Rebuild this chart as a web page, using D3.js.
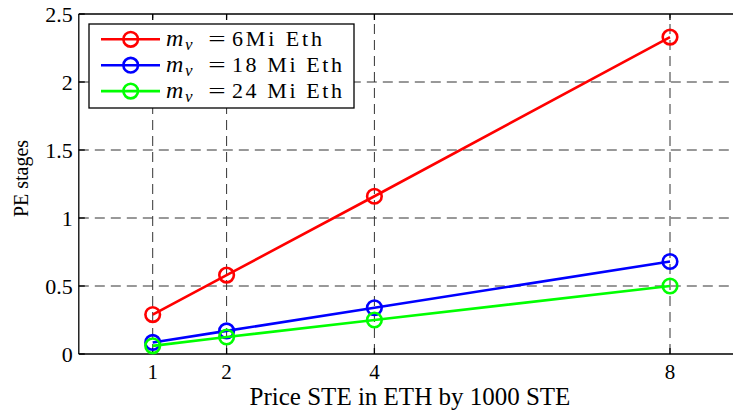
<!DOCTYPE html>
<html>
<head>
<meta charset="utf-8">
<script src="https://cdn.jsdelivr.net/npm/d3@7"></script>
<style>
  body { margin: 0; background: #fff; }
  svg { display: block; }
  text { font-family: "Liberation Serif", "Times New Roman", "DejaVu Serif", serif; fill: #000; }
</style>
</head>
<body>
<div id="chart"></div>
<script>
const prices = [1, 2, 4, 8];
const mv6 = [0.29, 0.58, 1.16, 2.33];
const mv18 = [0.085, 0.17, 0.34, 0.68];
const mv24 = [0.06, 0.125, 0.25, 0.50];
const yTicks = [0, 0.5, 1, 1.5, 2, 2.5];
const seriesNames = ["6Mi Eth", "18 Mi Eth", "24 Mi Eth"];
const seriesColors = ["#ff0000", "#0000ff", "#00ff00"];

const width = 733, height = 411;

const svg = d3.select("#chart").append("svg")
  .attr("width", width).attr("height", height);

// x domain runs past the window edge, as in the original
const x = d3.scaleLinear().domain([0, 9]).range([78.8, 78.8 + 9 * 73.9]);
const y = d3.scaleLinear().domain([0, 2.5]).range([354, 14]);
const x0 = x(0), x1 = x(9), yB = y(0), yT = y(2.5);

// dashed grid
const grid = svg.append("g").attr("stroke", "#333").attr("stroke-width", 1)
  .attr("stroke-dasharray", "10,6");
grid.selectAll(".gx").data(prices).join("line")
  .attr("x1", d => x(d)).attr("x2", d => x(d)).attr("y1", yB).attr("y2", yT);
grid.selectAll(".gy").data(yTicks.filter(d => d > 0 && d < 2.5)).join("line")
  .attr("x1", x0).attr("x2", x1).attr("y1", d => y(d)).attr("y2", d => y(d));

// frame
const frame = svg.append("g").attr("stroke", "#000").attr("stroke-width", 1.3);
frame.append("line").attr("x1", x0).attr("x2", x1).attr("y1", yB).attr("y2", yB);
frame.append("line").attr("x1", x0).attr("x2", x1).attr("y1", yT).attr("y2", yT);
frame.append("line").attr("x1", x0).attr("x2", x0).attr("y1", yB).attr("y2", yT);

// inward ticks
frame.selectAll(".tx").data(prices).join("g").each(function (d) {
  const g = d3.select(this);
  g.append("line").attr("x1", x(d)).attr("x2", x(d)).attr("y1", yB).attr("y2", yB - 6);
  g.append("line").attr("x1", x(d)).attr("x2", x(d)).attr("y1", yT).attr("y2", yT + 6);
});
frame.selectAll(".ty").data(yTicks).join("line")
  .attr("x1", x0).attr("x2", x0 + 6).attr("y1", d => y(d)).attr("y2", d => y(d));

// tick labels
svg.append("g").selectAll("text").data(prices).join("text")
  .attr("x", d => x(d)).attr("y", yB + 25)
  .attr("text-anchor", "middle").attr("font-size", 21).text(d => d);
svg.append("g").selectAll("text").data(yTicks).join("text")
  .attr("x", x0 - 6).attr("y", d => y(d) + 7.5)
  .attr("text-anchor", "end").attr("font-size", 22).text(d => d);

// axis titles
svg.append("text").attr("x", 410).attr("y", 405)
  .attr("text-anchor", "middle").attr("font-size", 25).text("Price STE in ETH by 1000 STE");
svg.append("text").attr("transform", "translate(27.5, 178.5) rotate(-90)")
  .attr("text-anchor", "middle").attr("font-size", 20).text("PE stages");

// series
const series = [mv6, mv18, mv24];
const line = d3.line().x((d, i) => x(prices[i])).y(d => y(d));
series.forEach((vals, k) => {
  const g = svg.append("g");
  g.append("path").datum(vals).attr("d", line)
    .attr("fill", "none").attr("stroke", seriesColors[k]).attr("stroke-width", 2.6);
  g.selectAll("circle").data(vals).join("circle")
    .attr("cx", (d, i) => x(prices[i])).attr("cy", d => y(d)).attr("r", 7.3)
    .attr("fill", "none").attr("stroke", seriesColors[k]).attr("stroke-width", 2.6);
});

// legend
const lg = svg.append("g").attr("transform", "translate(89,24)");
lg.append("rect").attr("width", 265).attr("height", 84)
  .attr("fill", "#fff").attr("stroke", "#000").attr("stroke-width", 1.3);
const restEnd = [233, 253, 253];
seriesNames.forEach((name, k) => {
  const ry = 15.3 + k * 25.9;
  const row = lg.append("g").attr("transform", `translate(0,${ry})`);
  row.append("line").attr("x1", 12).attr("x2", 71).attr("y1", 0).attr("y2", 0)
    .attr("stroke", seriesColors[k]).attr("stroke-width", 2.6);
  row.append("circle").attr("cx", 41.7).attr("cy", 0).attr("r", 7.3)
    .attr("fill", "none").attr("stroke", seriesColors[k]).attr("stroke-width", 2.6);
  row.append("text").attr("x", 77).attr("y", 7).attr("font-size", 24)
    .attr("font-style", "italic").text("m");
  row.append("text").attr("x", 96).attr("y", 11).attr("font-size", 17)
    .attr("font-style", "italic").text("v");
  row.append("text").attr("transform", "translate(128,7) scale(1.4,1)")
    .attr("font-size", 22).attr("text-anchor", "middle").text("=");
  row.append("text").attr("x", 143).attr("y", 7).attr("font-size", 22)
    .attr("textLength", restEnd[k] - 143).attr("lengthAdjust", "spacing").text(name);
});
</script>
</body>
</html>
